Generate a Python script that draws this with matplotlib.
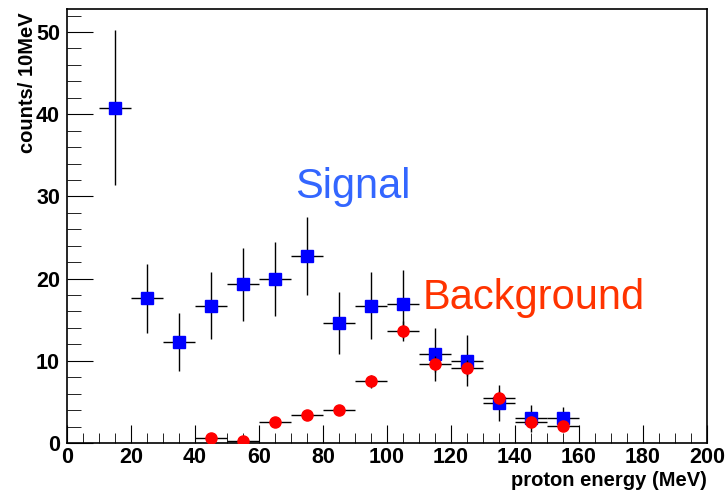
import numpy as np
from matplotlib import pyplot as plt
from matplotlib.ticker import MultipleLocator

# bin centres (MeV)
sig_x = [15, 25, 35, 45, 55, 65, 75, 85, 95, 105, 115, 125, 135, 145, 155]
sig_y = [40.8, 17.6, 12.3, 16.7, 19.3, 19.9, 22.7, 14.6, 16.7, 16.9, 10.8, 10.0, 4.9, 3.0, 3.1]
sig_err = [9.4, 4.2, 3.5, 4.1, 4.4, 4.5, 4.75, 3.8, 4.1, 4.1, 3.2, 3.1, 2.2, 1.65, 1.3]

bkg_x = [45, 55, 65, 75, 85, 95, 105, 115, 125, 135, 145, 155]
bkg_y = [0.6, 0.3, 2.5, 3.4, 4.0, 7.5, 13.6, 9.6, 9.1, 5.5, 2.6, 2.1]
bkg_err = [0.2, 0.2, 0.3, 0.4, 0.4, 0.8, 1.2, 1.0, 1.0, 0.8, 0.6, 0.5]

half_bin = 5

plt.rcParams['font.family'] = ['Liberation Sans', 'DejaVu Sans']

fig = plt.figure(figsize=(7.26, 4.9), dpi=100)
ax = fig.add_axes([0.0923, 0.0959, 0.8815, 0.8857])

ax.errorbar(sig_x, sig_y, yerr=sig_err, xerr=half_bin, fmt='s', color='#0000ff',
            markersize=8, ecolor='black', elinewidth=1, capsize=0, zorder=3)
ax.errorbar(bkg_x, bkg_y, yerr=bkg_err, xerr=half_bin, fmt='o', color='#ff0000',
            markersize=8, ecolor='black', elinewidth=1, capsize=0, zorder=4)

ax.text(71.2, 31.1, 'Signal', color='#3366ff', fontsize=30, va='center', ha='left')
ax.text(111, 17.6, 'Background', color='#ff3300', fontsize=30, va='center', ha='left')

ax.set_xlim(0, 200)
ax.set_ylim(0, 52.8)
ax.xaxis.set_major_locator(MultipleLocator(20))
ax.xaxis.set_minor_locator(MultipleLocator(5))
ax.yaxis.set_major_locator(MultipleLocator(10))
ax.yaxis.set_minor_locator(MultipleLocator(2))
ax.tick_params(axis='both', which='both', direction='in', top=False, right=False)
ax.tick_params(axis='x', which='major', length=13, pad=3)
ax.tick_params(axis='x', which='minor', length=7)
ax.tick_params(axis='y', which='major', length=19, pad=5)
ax.tick_params(axis='y', which='minor', length=10)
for lab in ax.get_xticklabels() + ax.get_yticklabels():
    lab.set_fontweight('bold')
    lab.set_fontsize(15.5)

ax.set_xlabel('proton energy (MeV)', fontsize=14.5, fontweight='bold', ha='right', va='center')
ax.xaxis.set_label_coords(1.0, -0.086)
ax.set_ylabel('counts/ 10MeV', fontsize=14.5, fontweight='bold', ha='right', va='center')
ax.yaxis.set_label_coords(-0.062, 0.993)
for s in ax.spines.values():
    s.set_linewidth(1.2)

plt.savefig('out.png')
